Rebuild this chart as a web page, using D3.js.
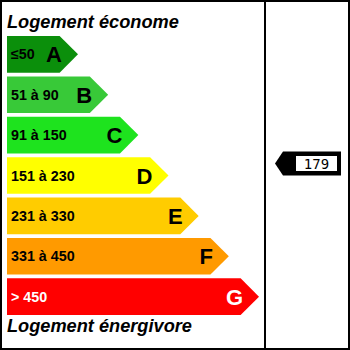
<!DOCTYPE html>
<html>
<head>
<meta charset="utf-8">
<script src="https://cdn.jsdelivr.net/npm/d3@7"></script>
<style>
  html, body { margin: 0; padding: 0; background: #fff; }
  svg { display: block; }
</style>
</head>
<body>
<div id="chart"></div>
<script>
// energy classes, top (best) to bottom (worst)
const classes = ["A", "B", "C", "D", "E", "F", "G"];
const ranges = ["≤50", "51 à 90", "91 à 150", "151 à 230", "231 à 330", "331 à 450", "> 450"];
const colors = ["#0b8f0b", "#38c938", "#1ee31e", "#ffff00", "#ffcc00", "#ff9a00", "#ff0000"];
const textColors = ["#000", "#000", "#000", "#000", "#000", "#000", "#fff"];
const value = 179;
const valueClass = "D";
const topTitle = "Logement économe";
const bottomTitle = "Logement énergivore";

const width = 350;
const height = 350;

const svg = d3.select("#chart").append("svg")
    .attr("width", width)
    .attr("height", height)
    .attr("viewBox", [0, 0, width, height]);

const y = d3.scaleBand()
    .domain(classes)
    .range([36, 315])
    .paddingInner(0.09);

// tip of each arrow grows by rank
const tip = d3.scaleLinear()
    .domain([0, classes.length - 1])
    .range([78, 259]);

const left = 7;
const h = y.bandwidth();

const rows = classes.map((c, i) => ({
    letter: c, range: ranges[i], color: colors[i], text: textColors[i],
    y0: y(c), x1: tip(i)
}));

const arrow = d => {
    const body = d.x1 - h / 2;
    return `M${left},${d.y0}H${body}L${d.x1},${d.y0 + h / 2}L${body},${d.y0 + h}H${left}Z`;
};

const bars = svg.append("g")
    .selectAll("g")
    .data(rows)
    .join("g");

bars.append("path")
    .attr("d", arrow)
    .attr("fill", d => d.color);

bars.append("text")
    .attr("x", 11)
    .attr("y", d => d.y0 + h / 2 + 5)
    .attr("font-family", "Liberation Sans, Arial, sans-serif")
    .attr("font-weight", "bold")
    .attr("font-size", 14.3)
    .attr("fill", d => d.text)
    .text(d => d.range);

bars.append("text")
    .attr("x", d => d.x1 - 16)
    .attr("y", d => d.y0 + h / 2 + 8)
    .attr("text-anchor", "end")
    .attr("font-family", "Liberation Sans, Arial, sans-serif")
    .attr("font-weight", "bold")
    .attr("font-size", 22)
    .attr("fill", d => d.text)
    .text(d => d.letter);

// titles
svg.append("text")
    .attr("x", 7)
    .attr("y", 28)
    .attr("font-family", "Liberation Sans, Arial, sans-serif")
    .attr("font-weight", "bold")
    .attr("font-style", "italic")
    .attr("font-size", 18.2)
    .text(topTitle);

svg.append("text")
    .attr("x", 7)
    .attr("y", 332)
    .attr("font-family", "Liberation Sans, Arial, sans-serif")
    .attr("font-weight", "bold")
    .attr("font-style", "italic")
    .attr("font-size", 18.2)
    .text(bottomTitle);

// frame
svg.append("rect")
    .attr("x", 1)
    .attr("y", 1)
    .attr("width", width - 2)
    .attr("height", height - 2)
    .attr("fill", "none")
    .attr("stroke", "#000")
    .attr("stroke-width", 2);

svg.append("line")
    .attr("x1", 265).attr("x2", 265)
    .attr("y1", 0).attr("y2", height)
    .attr("stroke", "#000")
    .attr("stroke-width", 2);

// value marker
const cy = y(valueClass) + h / 2 - 12;
const mh = 24;
const marker = svg.append("g");
marker.append("path")
    .attr("d", `M275,${cy}L${275 + 8},${cy - mh / 2}H341V${cy + mh / 2}H${275 + 8}Z`)
    .attr("fill", "#000");
marker.append("rect")
    .attr("x", 296)
    .attr("y", cy - 7.5)
    .attr("width", 41)
    .attr("height", 15)
    .attr("fill", "#fff");
marker.append("text")
    .attr("x", 316.5)
    .attr("y", cy + 5)
    .attr("text-anchor", "middle")
    .attr("font-family", "DejaVu Sans Mono, monospace")
    .attr("font-size", 14)
    .text(value);
</script>
</body>
</html>
